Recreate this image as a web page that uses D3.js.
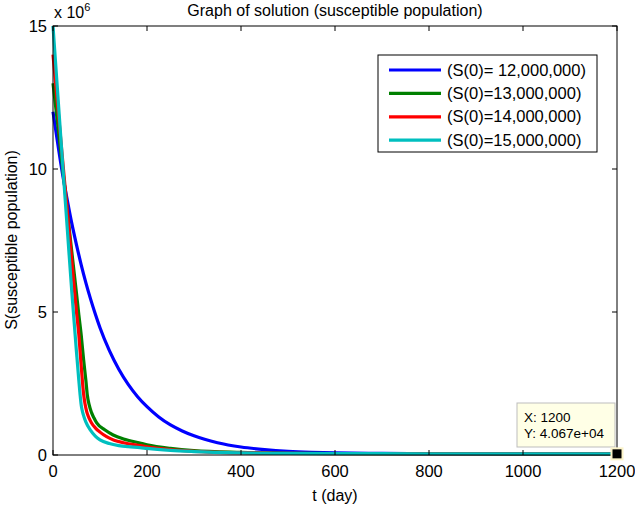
<!DOCTYPE html>
<html><head><meta charset="utf-8">
<script src="https://cdn.jsdelivr.net/npm/d3@7"></script>
<style>body{margin:0;background:#fff;} svg{display:block;} text{font-family:"Liberation Sans",Arial,sans-serif;}</style>
</head><body><svg id="c" width="635" height="508"></svg>
<script>
// values in millions
const tBlue  = [0,10,20,30,40,50,60,70,80,90,100,120,140,160,180,200,225,250,275,300,350,400,450,500,550,600,700,800,1000,1200];
const sBlue  = [12.0,10.9,9.85,8.95,8.1,7.35,6.65,6.02,5.45,4.93,4.45,3.65,3.0,2.47,2.04,1.69,1.33,1.05,0.84,0.67,0.43,0.28,0.19,0.13,0.095,0.075,0.055,0.047,0.042,0.041];
const tGreen = [0,10,20,30,40,50,55,60,65,70,73,77,82,87,93,110,128,150,185,200,250,300,400,500,600,800,1000,1200];
const sGreen = [13.0,11.55,10.1,8.6,7.1,5.65,4.9,4.2,3.35,2.6,2.1,1.75,1.48,1.3,1.12,0.88,0.7,0.56,0.42,0.36,0.23,0.15,0.09,0.062,0.052,0.045,0.042,0.041];
const tRed   = [0,10,20,30,40,50,55,58,62,65,68,72,77,82,90,100,114,130,150,185,200,250,300,400,500,600,800,1000,1200];
const sRed   = [14.0,12.2,10.4,8.6,6.8,5.0,4.2,3.55,2.7,2.15,1.8,1.5,1.28,1.12,0.95,0.8,0.64,0.52,0.43,0.33,0.29,0.19,0.13,0.08,0.058,0.05,0.044,0.042,0.041];
const tCyan  = [0,10,20,30,40,50,55,58,60,63,66,70,80,90,100,120,140,160,185,200,250,300,400,500,600,800,1000,1200];
const sCyan  = [15.0,12.65,10.3,8.0,5.7,3.6,2.6,2.05,1.75,1.5,1.33,1.15,0.86,0.66,0.53,0.40,0.33,0.29,0.26,0.23,0.16,0.12,0.075,0.055,0.048,0.043,0.041,0.04067];
const seriesNames = ["(S(0)= 12,000,000)","(S(0)=13,000,000)","(S(0)=14,000,000)","(S(0)=15,000,000)"];
const seriesColors = ["#0000ff","#008000","#ff0000","#00bfbf"];
const xTicks = [0,200,400,600,800,1000,1200];
const yTicks = [0,5,10,15];
const titleText = "Graph of solution (susceptible population)";
const xLabel = "t (day)";
const yLabel = "S(susceptible population)";
const tipX = 1200, tipY = 4.067e4;

const svg = d3.select("#c");
const L=53, R=617, T=26, B=455;
const x = d3.scaleLinear().domain([0,1200]).range([L,R]);
const y = d3.scaleLinear().domain([0,15]).range([B,T]);

const series = [[tBlue,sBlue],[tGreen,sGreen],[tRed,sRed],[tCyan,sCyan]];
const line = d3.line().x(d=>x(d[0])).y(d=>y(d[1])).curve(d3.curveMonotoneX);
series.forEach((s,i)=>{
  const pts = s[0].map((t,j)=>[t,s[1][j]]);
  svg.append("path").datum(pts).attr("d",line).attr("fill","none")
    .attr("stroke",seriesColors[i]).attr("stroke-width",3.2).attr("stroke-linejoin","round");
});

// box
svg.append("rect").attr("x",L).attr("y",T).attr("width",R-L).attr("height",B-T)
  .attr("fill","none").attr("stroke","#000").attr("stroke-width",1);
// ticks
const tk=5;
xTicks.forEach(v=>{
  svg.append("line").attr("x1",x(v)).attr("x2",x(v)).attr("y1",B).attr("y2",B-tk).attr("stroke","#000");
  svg.append("line").attr("x1",x(v)).attr("x2",x(v)).attr("y1",T).attr("y2",T+tk).attr("stroke","#000");
  svg.append("text").attr("x",x(v)).attr("y",477).attr("text-anchor","middle").attr("font-size",16.5).text(v);
});
yTicks.forEach(v=>{
  svg.append("line").attr("x1",L).attr("x2",L+tk).attr("y1",y(v)).attr("y2",y(v)).attr("stroke","#000");
  svg.append("line").attr("x1",R).attr("x2",R-tk).attr("y1",y(v)).attr("y2",y(v)).attr("stroke","#000");
  svg.append("text").attr("x",47).attr("y",y(v)+6).attr("text-anchor","end").attr("font-size",16.5).text(v);
});
// exponent
const ex = svg.append("text").attr("x",54).attr("y",18).attr("font-size",16);
ex.append("tspan").text("x 10");
ex.append("tspan").attr("font-size",11).attr("dy",-7).text("6");

svg.append("text").attr("x",335).attr("y",16).attr("text-anchor","middle").attr("font-size",16).text(titleText);
svg.append("text").attr("x",335).attr("y",501).attr("text-anchor","middle").attr("font-size",16).text(xLabel);
svg.append("text").attr("transform","translate(17,240) rotate(-90)").attr("text-anchor","middle").attr("font-size",16).text(yLabel);

// legend
const lg = svg.append("g");
lg.append("rect").attr("x",378).attr("y",55).attr("width",219).attr("height",97).attr("fill","#fff").attr("stroke","#000");
seriesNames.forEach((n,i)=>{
  const yy = 70 + i*23.4;
  lg.append("line").attr("x1",389).attr("x2",441).attr("y1",yy).attr("y2",yy).attr("stroke",seriesColors[i]).attr("stroke-width",3.2);
  lg.append("text").attr("x",447).attr("y",yy+5.5).attr("font-size",16.5).text(n);
});

// data tip
const tg = svg.append("g");
tg.append("rect").attr("x",517).attr("y",403).attr("width",98).attr("height",44).attr("fill","#ffffe6").attr("stroke","#bdbdbd");
tg.append("text").attr("x",524).attr("y",422).attr("font-size",13.5).text("X: "+tipX);
tg.append("text").attr("x",524).attr("y",438).attr("font-size",13.5).text("Y: "+d3.format(".3e")(tipY).replace("e+4","e+04"));
const mx = x(tipX), my = y(tipY/1e6);
tg.append("rect").attr("x",mx-6.5).attr("y",my-6.5).attr("width",13).attr("height",13).attr("fill","#fbf3c8");
tg.append("rect").attr("x",mx-4.5).attr("y",my-4.5).attr("width",9).attr("height",9).attr("fill","#000");
</script></body></html>
